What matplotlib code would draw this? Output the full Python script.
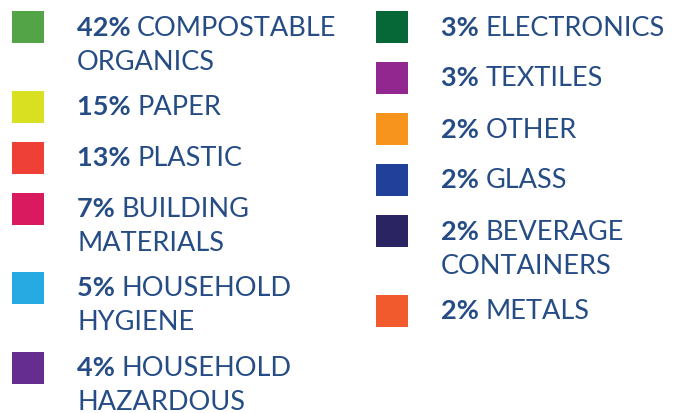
import matplotlib
matplotlib.use("Agg")
import matplotlib.pyplot as plt
from matplotlib.patches import Rectangle

# legend data
percents = ["42%", "15%", "13%", "7%", "5%", "4%",
            "3%", "3%", "2%", "2%", "2%", "2%"]
labels = ["COMPOSTABLE\nORGANICS", "PAPER", "PLASTIC", "BUILDING\nMATERIALS",
          "HOUSEHOLD\nHYGIENE", "HOUSEHOLD\nHAZARDOUS",
          "ELECTRONICS", "TEXTILES", "OTHER", "GLASS",
          "BEVERAGE\nCONTAINERS", "METALS"]
colors = ["#52a447", "#d9e021", "#ee4036", "#d91a5e", "#27aae1", "#662d91",
          "#066837", "#92278f", "#f7941d", "#21409a", "#2b2463", "#f15a2c"]

TEXT_COLOR = "#264c86"
FONT = "Lato"
FS = 19.5

fig = plt.figure(figsize=(6.82, 4.13), dpi=100)
ax = fig.add_axes([0, 0, 1, 1])
ax.set_xlim(0, 682)
ax.set_ylim(413, 0)
ax.axis("off")

columns = [(12, 77, range(0, 6)), (376, 441, range(6, 12))]
fig.canvas.draw()
renderer = fig.canvas.get_renderer()

for sq_x, txt_x, idx in columns:
    top = 11
    for i in idx:
        ax.add_patch(Rectangle((sq_x, top), 32, 32, color=colors[i], lw=0))
        lines = labels[i].split("\n")
        base = top + 24.5
        t = ax.text(txt_x, base, percents[i] + " ", fontsize=FS, fontweight="bold",
                    family=FONT, color=TEXT_COLOR, va="baseline", ha="left")
        bb = t.get_window_extent(renderer)
        x_end = ax.transData.inverted().transform((bb.x1, bb.y0))[0]
        ax.text(x_end, base, lines[0], fontsize=FS, family=FONT,
                color=TEXT_COLOR, va="baseline", ha="left")
        for k, ln in enumerate(lines[1:], start=1):
            ax.text(txt_x, base + 34 * k, ln, fontsize=FS, family=FONT,
                    color=TEXT_COLOR, va="baseline", ha="left")
        top += 51 + 28.5 * (len(lines) - 1)

fig.savefig("out.png", dpi=100, facecolor="white")
